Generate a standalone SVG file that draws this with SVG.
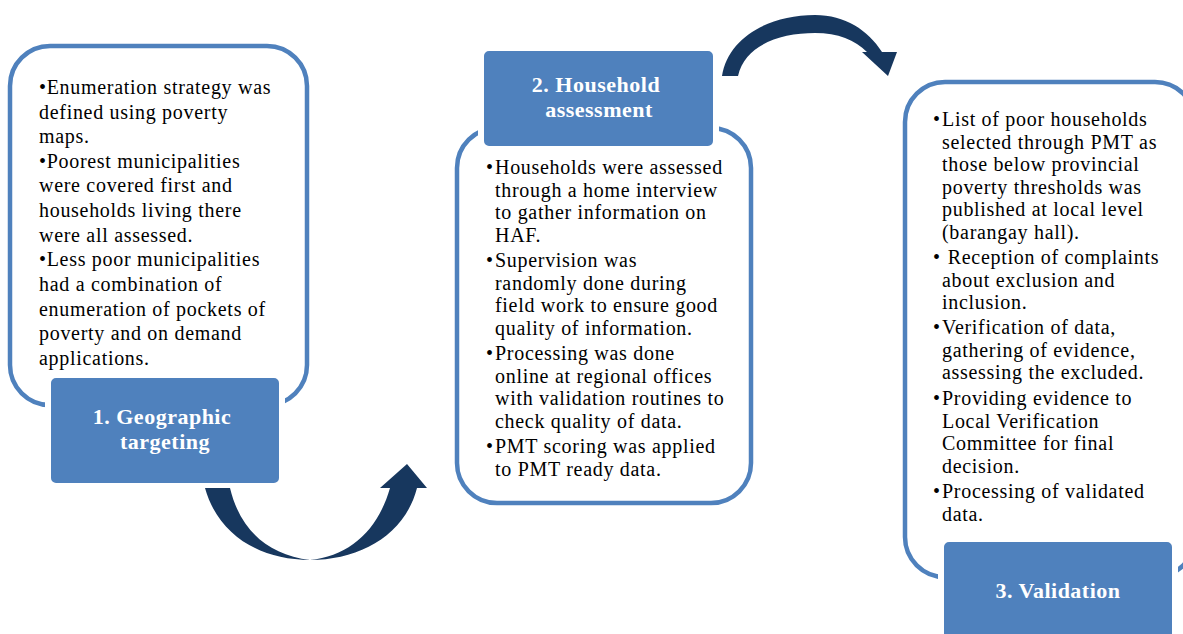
<svg xmlns="http://www.w3.org/2000/svg" width="1183" height="634" viewBox="0 0 1183 634">
  <style>
    .frame { fill: #ffffff; stroke: #4f81bd; stroke-width: 4.5; }
    .label { fill: #4f81bd; stroke: #ffffff; stroke-width: 6; }
    .body { font-family: "Liberation Serif", "Times New Roman", serif; font-size: 20px; letter-spacing: 0.7px; fill: #000000; }
    .title { font-family: "Liberation Serif", "Times New Roman", serif; font-size: 22px; letter-spacing: 0.5px; font-weight: bold; fill: #ffffff; text-anchor: middle; }
    .arrow { fill: #17375e; }
  </style>

  <!-- Step 1 -->
  <g id="step1">
    <rect class="frame" x="10" y="46" width="297" height="359" rx="40"/>
    <text class="body">
      <tspan x="39" y="94">•Enumeration strategy was</tspan>
      <tspan x="39" y="119">defined using poverty</tspan>
      <tspan x="39" y="143">maps.</tspan>
      <tspan x="39" y="168">•Poorest municipalities</tspan>
      <tspan x="39" y="192">were covered first and</tspan>
      <tspan x="39" y="217">households living there</tspan>
      <tspan x="39" y="242">were all assessed.</tspan>
      <tspan x="39" y="266">•Less poor municipalities</tspan>
      <tspan x="39" y="291">had a combination of</tspan>
      <tspan x="39" y="316">enumeration of pockets of</tspan>
      <tspan x="39" y="340">poverty and on demand</tspan>
      <tspan x="39" y="365">applications.</tspan>
    </text>
    <rect class="label" x="48" y="375" width="234" height="111" rx="8"/>
    <text class="title">
      <tspan x="165" y="424">1. Geographic</tspan>
      <tspan x="165" y="449">targeting</tspan>
    </text>
  </g>

  <!-- Step 2 -->
  <g id="step2">
    <rect class="frame" x="457" y="128" width="294" height="375" rx="40"/>
    <rect class="label" x="481" y="48" width="235" height="101" rx="8"/>
    <text class="title">
      <tspan x="599" y="92">2. Household</tspan>
      <tspan x="599" y="117">assessment</tspan>
    </text>
    <text class="body">
      <tspan x="486" y="174">•</tspan><tspan x="495" y="174">Households were assessed</tspan>
      <tspan x="495" y="196.5">through a home interview</tspan>
      <tspan x="495" y="219">to gather information on</tspan>
      <tspan x="495" y="241.5">HAF.</tspan>
      <tspan x="486" y="267">•</tspan><tspan x="495" y="267">Supervision was</tspan>
      <tspan x="495" y="289.5">randomly done during</tspan>
      <tspan x="495" y="312">field work to ensure good</tspan>
      <tspan x="495" y="334.5">quality of information.</tspan>
      <tspan x="486" y="360">•</tspan><tspan x="495" y="360">Processing was done</tspan>
      <tspan x="495" y="382.5">online at regional offices</tspan>
      <tspan x="495" y="405">with validation routines to</tspan>
      <tspan x="495" y="427.5">check quality of data.</tspan>
      <tspan x="486" y="453">•</tspan><tspan x="495" y="453">PMT scoring was applied</tspan>
      <tspan x="495" y="475.5">to PMT ready data.</tspan>
    </text>
  </g>

  <!-- Step 3 -->
  <g id="step3">
    <rect class="frame" x="905" y="82" width="290" height="495" rx="40"/>
    <text class="body">
      <tspan x="933" y="126">•</tspan><tspan x="942" y="126">List of poor households</tspan>
      <tspan x="942" y="148.5">selected through PMT as</tspan>
      <tspan x="942" y="171">those below provincial</tspan>
      <tspan x="942" y="193.5">poverty thresholds was</tspan>
      <tspan x="942" y="216">published at local level</tspan>
      <tspan x="942" y="238.5">(barangay hall).</tspan>
      <tspan x="933" y="264">•</tspan><tspan x="942" y="264"> Reception of complaints</tspan>
      <tspan x="942" y="286.5">about exclusion and</tspan>
      <tspan x="942" y="309">inclusion.</tspan>
      <tspan x="933" y="334">•</tspan><tspan x="942" y="334">Verification of data,</tspan>
      <tspan x="942" y="356.5">gathering of evidence,</tspan>
      <tspan x="942" y="379">assessing the excluded.</tspan>
      <tspan x="933" y="405">•</tspan><tspan x="942" y="405">Providing evidence to</tspan>
      <tspan x="942" y="427.5">Local Verification</tspan>
      <tspan x="942" y="450">Committee for final</tspan>
      <tspan x="942" y="472.5">decision.</tspan>
      <tspan x="933" y="498">•</tspan><tspan x="942" y="498">Processing of validated</tspan>
      <tspan x="942" y="520.5">data.</tspan>
    </text>
    <rect class="label" x="941" y="539" width="234" height="115" rx="8"/>
    <text class="title">
      <tspan x="1058" y="598">3. Validation</tspan>
    </text>
  </g>

  <!-- Curved arrows between steps -->
  <g id="connectors">
    <path class="arrow" d="M205,488 C218,535 260,560 310,560 C360,560 405,535 417,488 L427,488 L407,464 L380,488 L390,488 C378,530 350,556 310,560 C268,555 240,530 230,488 Z"/>
    <path class="arrow" d="M722,76 C728,38 768,15 815,15 C845,15 868,30 882,52 L897,52 L888,76 L862,52 L867,52 C855,40 838,33 815,33 C780,33 745,45 738,76 Z"/>
  </g>
</svg>
